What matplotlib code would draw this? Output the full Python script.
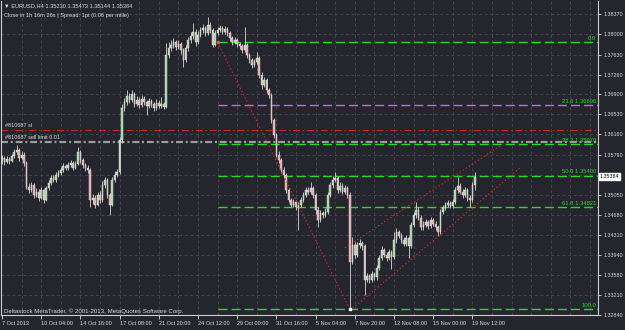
import matplotlib.pyplot as plt

plt.rcParams['font.family'] = ['Liberation Sans', 'DejaVu Sans']
plt.rcParams['lines.scale_dashes'] = False

# ---- data (EURUSD H4) ----
date_labels = ['7 Oct 2013', '10 Oct 04:00', '14 Oct 16:00', '17 Oct 08:00', '21 Oct 20:00',
               '24 Oct 12:00', '29 Oct 00:00', '31 Oct 16:00', '5 Nov 04:00', '7 Nov 20:00',
               '12 Nov 08:00', '15 Nov 00:00', '19 Nov 12:00']
bars_per_label = 16

price_ticks = [1.38370, 1.38000, 1.37630, 1.37260, 1.36900, 1.36530, 1.36160, 1.35790,
               1.35420, 1.35050, 1.34680, 1.34310, 1.33940, 1.33580, 1.33210, 1.32840]
price_labels = ['1.38370', '1.38000', '1.37630', '1.37260', '1.36900', '1.36530', '1.36160',
                '1.35790', '', '1.35050', '1.34680', '1.34310', '1.33940', '1.33580',
                '1.33210', '1.32840']

first_open = 1.3569
closes = [1.3573, 1.3566, 1.3571, 1.3568, 1.3577, 1.3584, 1.3588, 1.3573, 1.3579, 1.3564,
          1.3520, 1.3514, 1.3523, 1.3505, 1.3511, 1.3500, 1.3514, 1.3496, 1.3518, 1.3527,
          1.3536, 1.3533, 1.3542, 1.3545, 1.3551, 1.3558, 1.3555, 1.3560, 1.3564, 1.3555,
          1.3562, 1.3584, 1.3569, 1.3560, 1.3555, 1.3551, 1.3496, 1.3500, 1.3487, 1.3505,
          1.3496, 1.3523, 1.3533, 1.3505, 1.3487, 1.3533, 1.3542, 1.3547, 1.3606, 1.3665,
          1.3676, 1.3687, 1.3680, 1.3690, 1.3672, 1.3680, 1.3670, 1.3681, 1.3676, 1.3669,
          1.3678, 1.3672, 1.3665, 1.3674, 1.3669, 1.3672, 1.3667, 1.3762, 1.3775, 1.3781,
          1.3786, 1.3777, 1.3782, 1.3771, 1.3753, 1.3775, 1.3790, 1.3797, 1.3805, 1.3786,
          1.3799, 1.3808, 1.3812, 1.3803, 1.3817, 1.3808, 1.3781, 1.3803, 1.3808, 1.3812,
          1.3805, 1.3810, 1.3803, 1.3793, 1.3786, 1.3790, 1.3782, 1.3779, 1.3771, 1.3781,
          1.3762, 1.3753, 1.3744, 1.3749, 1.3757, 1.3726, 1.3707, 1.3716, 1.3698, 1.3689,
          1.3643, 1.3615, 1.3579, 1.3569, 1.3551, 1.3542, 1.3514, 1.3496, 1.3487, 1.3492,
          1.3483, 1.3487, 1.3496, 1.3505, 1.3514, 1.3511, 1.3518, 1.3505, 1.3478, 1.3459,
          1.3472, 1.3468, 1.3474, 1.3505, 1.3523, 1.3533, 1.3536, 1.3514, 1.3522, 1.3511,
          1.3518, 1.3505, 1.3382, 1.3413, 1.3395, 1.3413, 1.3417, 1.3410, 1.3349, 1.3356,
          1.3349, 1.3360, 1.3353, 1.3371, 1.3389, 1.3404, 1.3395, 1.3389, 1.3400, 1.3391,
          1.3422, 1.3437, 1.3430, 1.3422, 1.3415, 1.3426, 1.3411, 1.3450, 1.3468, 1.3478,
          1.3463, 1.3445, 1.3450, 1.3455, 1.3448, 1.3459, 1.3452, 1.3445, 1.3437, 1.3474,
          1.3481, 1.3487, 1.3490, 1.3485, 1.3492, 1.3514, 1.3522, 1.3511, 1.3505, 1.3514,
          1.3500, 1.3496, 1.3523, 1.35384]
highs = [1.3579, 1.3577, 1.3576, 1.3575, 1.3581, 1.3590, 1.3597, 1.3592, 1.3586, 1.3583,
         1.3567, 1.3527, 1.3529, 1.3526, 1.3518, 1.3515, 1.3519, 1.3516, 1.3522, 1.3532,
         1.3541, 1.3542, 1.3547, 1.3551, 1.3556, 1.3563, 1.3562, 1.3566, 1.3569, 1.3568,
         1.3567, 1.3593, 1.3588, 1.3573, 1.3564, 1.3560, 1.3554, 1.3507, 1.3504, 1.3510,
         1.3512, 1.3530, 1.3538, 1.3536, 1.3509, 1.3537, 1.3548, 1.3553, 1.3612, 1.3672,
         1.3683, 1.3698, 1.3693, 1.3697, 1.3694, 1.3686, 1.3685, 1.3688, 1.3687, 1.3680,
         1.3684, 1.3682, 1.3676, 1.3681, 1.3679, 1.3685, 1.3676, 1.3784, 1.3787, 1.3790,
         1.3794, 1.3790, 1.3789, 1.3786, 1.3775, 1.3780, 1.3796, 1.3805, 1.3821, 1.3810,
         1.3806, 1.3814, 1.3819, 1.3816, 1.3832, 1.3823, 1.3812, 1.3808, 1.3813, 1.3818,
         1.3816, 1.3815, 1.3813, 1.3807, 1.3797, 1.3795, 1.3793, 1.3787, 1.3783, 1.3814,
         1.3784, 1.3766, 1.3757, 1.3755, 1.3768, 1.3760, 1.3730, 1.3722, 1.3720, 1.3702,
         1.3692, 1.3646, 1.3618, 1.3585, 1.3573, 1.3556, 1.3546, 1.3518, 1.3500, 1.3497,
         1.3496, 1.3492, 1.3501, 1.3510, 1.3519, 1.3520, 1.3528, 1.3522, 1.3508, 1.3482,
         1.3477, 1.3476, 1.3480, 1.3510, 1.3529, 1.3539, 1.3547, 1.3540, 1.3528, 1.3526,
         1.3523, 1.3521, 1.3510, 1.3427, 1.3418, 1.3419, 1.3423, 1.3421, 1.3414, 1.3362,
         1.3360, 1.3365, 1.3364, 1.3376, 1.3395, 1.3410, 1.3408, 1.3400, 1.3406, 1.3404,
         1.3436, 1.3444, 1.3441, 1.3434, 1.3427, 1.3432, 1.3430, 1.3455, 1.3474, 1.3492,
         1.3482, 1.3467, 1.3457, 1.3461, 1.3459, 1.3464, 1.3463, 1.3456, 1.3449, 1.3479,
         1.3487, 1.3492, 1.3496, 1.3494, 1.3498, 1.3520, 1.3538, 1.3526, 1.3515, 1.3519,
         1.3518, 1.3504, 1.3528, 1.35473]
lows = [1.3562, 1.3560, 1.3563, 1.3561, 1.3565, 1.3573, 1.3580, 1.3568, 1.3570, 1.3558,
        1.3515, 1.3508, 1.3510, 1.3500, 1.3501, 1.3494, 1.3497, 1.3490, 1.3493, 1.3514,
        1.3523, 1.3528, 1.3529, 1.3538, 1.3541, 1.3547, 1.3550, 1.3551, 1.3556, 1.3550,
        1.3552, 1.3559, 1.3564, 1.3555, 1.3549, 1.3546, 1.3483, 1.3489, 1.3481, 1.3484,
        1.3490, 1.3492, 1.3518, 1.3500, 1.3468, 1.3484, 1.3528, 1.3537, 1.3543, 1.3601,
        1.3660, 1.3671, 1.3674, 1.3676, 1.3666, 1.3668, 1.3664, 1.3667, 1.3671, 1.3652,
        1.3665, 1.3667, 1.3660, 1.3661, 1.3664, 1.3665, 1.3662, 1.3664, 1.3757, 1.3770,
        1.3775, 1.3771, 1.3773, 1.3764, 1.3740, 1.3749, 1.3770, 1.3785, 1.3792, 1.3779,
        1.3782, 1.3795, 1.3803, 1.3797, 1.3799, 1.3803, 1.3777, 1.3778, 1.3799, 1.3804,
        1.3800, 1.3801, 1.3798, 1.3788, 1.3781, 1.3782, 1.3777, 1.3774, 1.3766, 1.3767,
        1.3757, 1.3747, 1.3738, 1.3740, 1.3745, 1.3720, 1.3700, 1.3703, 1.3693, 1.3684,
        1.3638, 1.3610, 1.3574, 1.3564, 1.3546, 1.3536, 1.3509, 1.3491, 1.3482, 1.3483,
        1.3477, 1.3441, 1.3483, 1.3492, 1.3501, 1.3506, 1.3507, 1.3499, 1.3470, 1.3446,
        1.3455, 1.3463, 1.3464, 1.3470, 1.3501, 1.3518, 1.3528, 1.3509, 1.3510, 1.3506,
        1.3507, 1.3500, 1.3295, 1.3377, 1.3388, 1.3391, 1.3408, 1.3404, 1.3321, 1.3344,
        1.3343, 1.3345, 1.3348, 1.3349, 1.3366, 1.3385, 1.3390, 1.3384, 1.3385, 1.3369,
        1.3387, 1.3417, 1.3425, 1.3417, 1.3410, 1.3411, 1.3389, 1.3407, 1.3445, 1.3463,
        1.3458, 1.3440, 1.3441, 1.3446, 1.3443, 1.3444, 1.3447, 1.3440, 1.3430, 1.3433,
        1.3470, 1.3477, 1.3482, 1.3480, 1.3481, 1.3488, 1.3509, 1.3506, 1.3500, 1.3501,
        1.3494, 1.3483, 1.3492, 1.35144]
opens = [first_open] + closes[:-1]

# fibonacci retracement (24 Oct high -> 7 Nov low)
fib_start_bar, fib_end_bar = 88, 142
fib_high, fib_low = 1.37854, 1.32946
fib_levels = [0.0, 23.6, 38.2, 50.0, 61.8, 100.0]
fib_texts = ['0.0', '23.6 1.36696', '38.2 1.35979', '50.0 1.35400', '61.8 1.34821', '100.0']

# trendlines drawn on the chart (bar, price)
trend_upper = [(140, 1.34077), (204, 1.35970)]
trend_lower = [(142, 1.32920), (212, 1.35565)]

sl_price = 1.36250
sell_limit_price = 1.36025

header = '\u25bc EURUSD,H4 1.35230 1.35473 1.35144 1.35384'
subheader = 'Close in 1h 16m 26s | Spread: 1pt (0.06 per mille)'
footer = 'Deltastock MetaTrader, \u00a9 2001-2013, MetaQuotes Software Corp.'

# ---- style ----
bg = '#24252d'
grid_c = '#4a4b55'
fg = '#dcdcdc'
green = '#1ee01e'
plum = '#cc6ccc'
bull_c = '#9ed49e'
bear_c = '#e8a2a2'

W, H = 625, 330
fig = plt.figure(figsize=(W / 100, H / 100), dpi=100, facecolor=bg)
ax = fig.add_axes([1 / W, 15 / H, 597 / W, 314 / H], facecolor=bg)

n = len(closes)
ax.set_xlim(-0.4, 243.3)
ax.set_ylim(1.32846, 1.38615)

# grid
for b in range(8, 244, 8):
    ax.axvline(b, color=grid_c, lw=0.6, dashes=(2, 2), zorder=0)
for p in price_ticks:
    ax.axhline(p, color=grid_c, lw=0.6, dashes=(2, 2), zorder=0)

# candles
idx = list(range(n))
ax.vlines(idx, lows, highs, color='#d8d8d8', lw=0.6, zorder=3)
bottoms = [min(o, c) for o, c in zip(opens, closes)]
heights = [max(abs(c - o), 0.00004) for o, c in zip(opens, closes)]
colors = [bull_c if c >= o else bear_c for o, c in zip(opens, closes)]
ax.bar(idx, heights, bottom=bottoms, width=0.62, color=colors,
       edgecolor='#eeeeee', linewidth=0.3, zorder=4)

# order lines
ax.axhline(sl_price, color='#d42222', lw=0.8, dashes=(5, 2, 1, 2), zorder=2)
ax.axhline(sell_limit_price, color='#9c9c9c', lw=1.6, dashes=(5, 2, 1.5, 2), zorder=2)
ax.annotate('#810687 sl', xy=(0.007, sl_price), xycoords=ax.get_yaxis_transform(),
            xytext=(0, 1.2), textcoords='offset points', va='bottom', ha='left',
            fontsize=4.0, color=fg)
ax.annotate('#810687 sell limit 0.01', xy=(0.007, sell_limit_price),
            xycoords=ax.get_yaxis_transform(), xytext=(0, 1.6), textcoords='offset points',
            va='bottom', ha='left', fontsize=4.0, color=fg)

# fibonacci
ax.plot([fib_start_bar, fib_end_bar], [fib_high, fib_low], color='#e02828', lw=0.8,
        dashes=(1, 1.6), zorder=5)
for lvl, txt in zip(fib_levels, fib_texts):
    p = fib_high - lvl / 100 * (fib_high - fib_low)
    c = plum if lvl == 23.6 else green
    ax.plot([fib_start_bar, 243.3], [p, p], color=c, lw=1.0, dashes=(6.5, 2.9), zorder=2)
    ax.annotate(txt, xy=(0.997, p), xycoords=ax.get_yaxis_transform(), xytext=(0, 1.2),
                textcoords='offset points', ha='right', va='bottom', fontsize=4.2, color=green)
ax.plot([fib_start_bar], [fib_high], marker='s', ms=1.8, color='#ff4040', zorder=6)
ax.plot([fib_end_bar], [fib_low], marker='s', ms=1.8, color='#ffffff', zorder=6)

# trendlines
for line in (trend_upper, trend_lower):
    ax.plot([line[0][0], line[1][0]], [line[0][1], line[1][1]], color='#e02828', lw=0.8,
            dashes=(1, 1.6), zorder=5)

# axes
for s in ax.spines.values():
    s.set_color('#cfcfcf')
    s.set_linewidth(0.8)
ax.spines['top'].set_visible(False)
ax.yaxis.tick_right()
ax.set_yticks(price_ticks)
ax.set_yticklabels(price_labels)
ax.tick_params(axis='y', colors=fg, labelsize=3.9, length=2.5, width=0.6, pad=1.2)
ax.set_xticks(range(0, bars_per_label * len(date_labels), bars_per_label))
ax.set_xticklabels(date_labels)
ax.tick_params(axis='x', colors=fg, labelsize=4.0, length=3, width=0.6, pad=1.4)
for lab in ax.get_xticklabels():
    lab.set_horizontalalignment('left')

# current price box
ax.text(1.003, closes[-1], '%.5f' % closes[-1], transform=ax.get_yaxis_transform(),
        ha='left', va='center', fontsize=3.9, color='black', clip_on=False,
        bbox=dict(boxstyle='square,pad=0.2', fc='white', ec='white'))

# header / footer
fig.text(4 / W, 1 - 6 / H, header, fontsize=4.1, color=fg, va='center', ha='left')
fig.text(4 / W, 1 - 16 / H, subheader, fontsize=4.1, color=fg, va='center', ha='left')
fig.text(4 / W, 1 - 311 / H, footer, fontsize=4.4, color=fg, va='center', ha='left')

fig.savefig('out.png', dpi=100, facecolor=bg)
